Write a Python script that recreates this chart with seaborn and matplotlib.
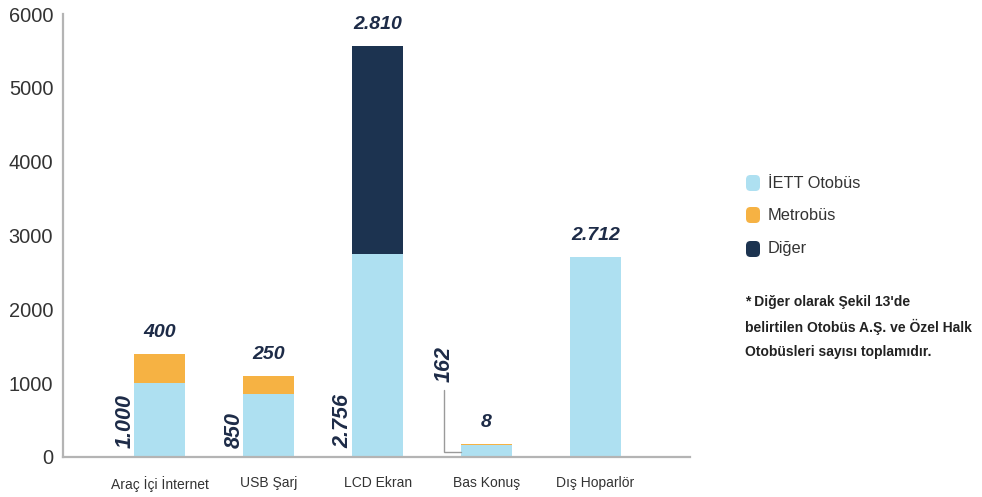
import matplotlib
matplotlib.use("Agg")
import matplotlib.pyplot as plt
from matplotlib import font_manager
from matplotlib.patches import FancyBboxPatch
import seaborn as sns
import pandas as pd

# ---- data -------------------------------------------------------------
categories = ["Araç İçi İnternet", "USB Şarj", "LCD Ekran", "Bas Konuş", "Dış Hoparlör"]
iett_values = [1000, 850, 2756, 162, 2712]
metrobus_values = [400, 250, 0, 8, 0]
diger_values = [0, 0, 2810, 0, 0]
series_names = ["İETT Otobüs", "Metrobüs", "Diğer"]
y_ticks = [0, 1000, 2000, 3000, 4000, 5000, 6000]
note_lines = ["* Diğer olarak Şekil 13'de",
              "belirtilen Otobüs A.Ş. ve Özel Halk",
              "Otobüsleri sayısı toplamıdır."]

# ---- style ------------------------------------------------------------
BLUE = "#aee0f1"
ORANGE = "#f6b243"
NAVY = "#1c3350"
LABEL = "#1d2b47"
AXIS = "#b4b4b4"
TEXT = "#333333"

sns.set_theme(style="white")
plt.rcParams["font.family"] = ["Liberation Sans", "DejaVu Sans"]

available = {f.name for f in font_manager.fontManager.ttflist}
narrow = "Liberation Sans Narrow" in available
cat_family = ["Liberation Sans Narrow", "DejaVu Sans"] if narrow else ["Liberation Sans", "DejaVu Sans"]
cat_size = 12 if narrow else 10


def tr_num(v):
    return format(int(v), ",").replace(",", ".")


df = pd.DataFrame({
    "kategori": categories,
    "iett": iett_values,
    "metrobus": metrobus_values,
    "diger": diger_values,
})
df["iett_metro"] = df["iett"] + df["metrobus"]
df["toplam"] = df["iett_metro"] + df["diger"]

fig = plt.figure(figsize=(9.82, 4.97), dpi=100)
ax = fig.add_axes([63 / 982, 1 - 457 / 497, (690 - 63) / 982, (457 - 14) / 497])

W = 0.47
# stacked bars: draw cumulative totals from the top layer down
sns.barplot(data=df, x="kategori", y="toplam", color=NAVY, saturation=1,
            width=W, errorbar=None, linewidth=0, ax=ax)
sns.barplot(data=df, x="kategori", y="iett_metro", color=ORANGE, saturation=1,
            width=W, errorbar=None, linewidth=0, ax=ax)
sns.barplot(data=df, x="kategori", y="iett", color=BLUE, saturation=1,
            width=W, errorbar=None, linewidth=0, ax=ax)

ax.set_xlim(-0.89, 4.87)
ax.set_ylim(0, 6000)
ax.set_yticks(y_ticks)
ax.set_yticklabels([str(t) for t in y_ticks])
ax.set_xlabel("")
ax.set_ylabel("")

for s in ("top", "right"):
    ax.spines[s].set_visible(False)
for s in ("left", "bottom"):
    ax.spines[s].set_color(AXIS)
    ax.spines[s].set_linewidth(1.6)

ax.tick_params(axis="y", direction="in", length=11, width=1.3, color=AXIS,
               pad=7, labelsize=14.4, labelcolor=TEXT)
ax.tick_params(axis="x", length=0, pad=13.5, labelcolor=TEXT)
for lbl in ax.get_xticklabels():
    lbl.set_family(cat_family)
    lbl.set_fontsize(cat_size)

# ---- value labels -----------------------------------------------------
for i in range(len(categories)):
    segs = [iett_values[i], metrobus_values[i], diger_values[i]]
    total = sum(segs)
    top_idx = max(k for k, v in enumerate(segs) if v > 0)
    ax.annotate(tr_num(segs[top_idx]), xy=(i, total), xytext=(0, 15.5),
                textcoords="offset points", ha="center", va="center",
                fontsize=14, fontweight="bold", fontstyle="italic", color=LABEL)
    if top_idx > 0:
        if segs[0] > 400:
            ax.text(i - 0.32, 125, tr_num(segs[0]), rotation=90, ha="center",
                    va="bottom", fontsize=15.5, fontweight="bold",
                    fontstyle="italic", color=LABEL)
        else:
            # small segment: label raised with a leader line to the bar
            lx = i - 0.39
            ax.plot([lx, lx, i - W / 2], [910, 68, 68], color="#9a9a9a",
                    lw=1.0, solid_joinstyle="miter", clip_on=False)
            ax.text(lx + 0.005, 1020, tr_num(segs[0]), rotation=90,
                    ha="center", va="bottom", fontsize=15.5, fontweight="bold",
                    fontstyle="italic", color=LABEL)

# ---- legend -----------------------------------------------------------
def px(x, y):
    return x / 100, (497 - y) / 100

for name, col, yc in zip(series_names, [BLUE, ORANGE, NAVY], [183, 215, 249]):
    x0, y0 = px(746, yc + 8)
    fig.patches.append(FancyBboxPatch((x0, y0), 0.14, 0.16,
                                      boxstyle="round,pad=0,rounding_size=0.045",
                                      transform=fig.dpi_scale_trans,
                                      facecolor=col, edgecolor="none"))
    tx, ty = px(768, yc)
    fig.text(tx, ty, name, transform=fig.dpi_scale_trans, ha="left",
             va="center", fontsize=11.8, color=TEXT)

for line, yc in zip(note_lines, [302, 327, 352]):
    tx, ty = px(745, yc)
    fig.text(tx, ty, line, transform=fig.dpi_scale_trans, ha="left",
             va="center", fontsize=10, fontweight="bold", color="#222222")

fig.savefig("out.png", dpi=100)
